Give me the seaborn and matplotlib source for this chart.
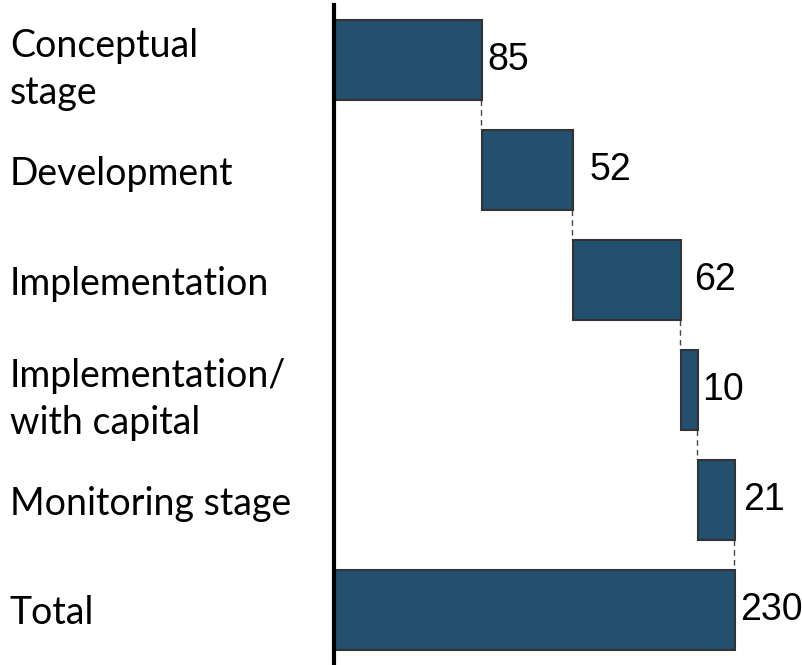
import matplotlib
matplotlib.use('Agg')
import numpy as np
import pandas as pd
import matplotlib.pyplot as plt
import seaborn as sns

# waterfall data
stages = ['Conceptual\nstage', 'Development', 'Implementation',
          'Implementation/\nwith capital', 'Monitoring stage', 'Total']
values = [85, 52, 62, 10, 21, 230]
is_total = [False, False, False, False, False, True]

# where each bar starts: running sum for steps, 0 for the total
starts = []
run = 0
for v, t in zip(values, is_total):
    if t:
        starts.append(0)
    else:
        starts.append(run)
        run += v
ends = [s + v for s, v in zip(starts, values)]

df = pd.DataFrame({'stage': stages, 'value': values, 'start': starts})

sns.set_style('white')
plt.rcParams['font.family'] = ['Lato', 'DejaVu Sans']

W, H = 803, 665
fig = plt.figure(figsize=(W / 100, H / 100), dpi=100)
ax = fig.add_axes([334 / W, 0, 1 - 334 / W, 660 / H])

bar_color = '#23506e'
sns.barplot(data=df, x='value', y='stage', orient='h', ax=ax,
            color=bar_color, saturation=1, width=0.73,
            left=df['start'].to_numpy(), edgecolor='#333333', linewidth=1.5)

ax.set_xlim(0, 269)
ax.set_ylim(5.5, -0.5)

# dashed connectors between consecutive bars
hw = 0.73 / 2
for i in range(len(values) - 1):
    ax.plot([ends[i] - 0.6, ends[i] - 0.6], [i + hw, i + 1 - hw], color='#444444',
            lw=1.0, ls=(0, (4, 3)), zorder=0)

# value labels (nudges in pixels, as placed in the reference)
nudge = [5, 17, 13, 4, 8, 5]
for i, (e, v) in enumerate(zip(ends, values)):
    ax.annotate(str(v), xy=(e, i), xytext=(nudge[i] * 0.72, 0),
                textcoords='offset points', ha='left', va='center',
                fontsize=27, fontfamily=['Liberation Sans', 'DejaVu Sans'],
                color='black')

ax.set_xlabel('')
ax.set_ylabel('')
ax.set_xticks([])
for lab in ax.get_yticklabels():
    lab.set_horizontalalignment('left')
    lab.set_fontsize(27)
    lab.set_linespacing(1.4)
    lab.set_color('black')
ax.tick_params(axis='y', length=0, pad=(334 - 10) * 0.72)

for s in ['top', 'right', 'bottom']:
    ax.spines[s].set_visible(False)
ax.spines['left'].set_linewidth(3)
ax.spines['left'].set_color('black')

fig.savefig('out.png', dpi=100)
